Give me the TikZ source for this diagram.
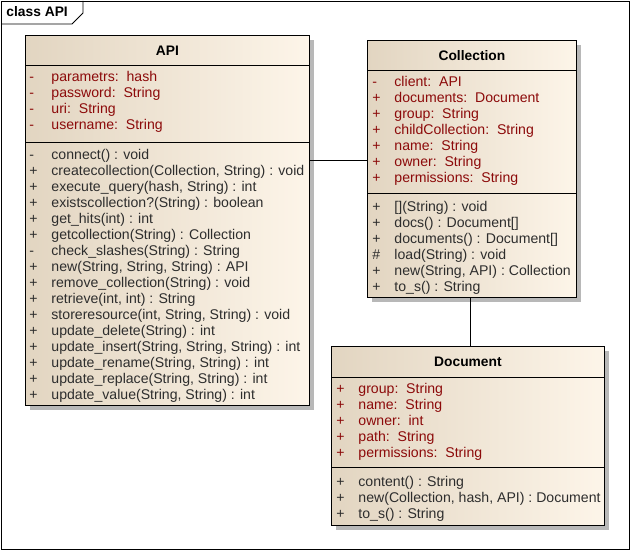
\documentclass[tikz,border=0pt]{standalone}
\usepackage{fontspec}
\setmainfont{Liberation Sans}
\usetikzlibrary{shadows}

\definecolor{umldark}{RGB}{226,213,193}
\definecolor{umllight}{RGB}{253,245,233}
\definecolor{attrred}{RGB}{140,10,10}
\definecolor{methgray}{RGB}{45,45,45}
\newcommand{\vis}[1]{\makebox[22pt][l]{#1}}

\begin{document}
\begin{tikzpicture}[x=1pt, y=-1pt, line width=0.9pt,
        class_style/.style={rectangle, draw=black, left color=umldark, right color=umllight, anchor=north west, inner sep=0pt,
            drop shadow={shadow xshift=5pt, shadow yshift=-5pt, fill=black!28, opacity=1}},
        title_style/.style={font=\fontsize{13.8}{16}\selectfont\bfseries, text=black},
        attr_style/.style={anchor=north west, align=left, inner sep=0pt, font=\fontsize{14.1}{16}\selectfont, text=attrred},
        meth_style/.style={attr_style, text=methgray},
        edge_style/.style={draw=black, line width=0.9pt, -}]

        \useasboundingbox (0,0) rectangle (630,551);
        \draw (1,1) rectangle (629,549);
        \node[anchor=west, inner sep=0pt, font=\fontsize{13.8}{16}\selectfont\bfseries] (frame_label) at (6,12) {class API};
        \draw (1,24) -- (72,24) -- (83,13) -- (83,1);

        % classes
        \node[class_style, minimum width=284pt, minimum height=370pt] (api) at (25,35) {};
        \node[class_style, minimum width=209pt, minimum height=257pt] (coll) at (367,40) {};
        \node[class_style, minimum width=273pt, minimum height=179pt] (doc) at (331,346) {};

        \draw ([yshift=-30pt]api.north west) -- ([yshift=-30pt]api.north east);
        \draw ([yshift=-107pt]api.north west) -- ([yshift=-107pt]api.north east);
        \draw ([yshift=-30pt]coll.north west) -- ([yshift=-30pt]coll.north east);
        \draw ([yshift=-153pt]coll.north west) -- ([yshift=-153pt]coll.north east);
        \draw ([yshift=-31pt]doc.north west) -- ([yshift=-31pt]doc.north east);
        \draw ([yshift=-121pt]doc.north west) -- ([yshift=-121pt]doc.north east);

        \node[title_style] (api_title) at ([yshift=-16pt]api.north) {API};
        \node[title_style] (coll_title) at ([yshift=-16pt]coll.north) {Collection};
        \node[title_style] (doc_title) at ([yshift=-16pt]doc.north) {Document};

        \node[attr_style] (api_attr) at (29,71) {\vis{-}parametrs:\ \ hash\\
            \vis{-}password:\ \ String\\
            \vis{-}uri:\ \ String\\
            \vis{-}username:\ \ String};
        \node[meth_style] (api_meth) at (29,149) {\vis{-}connect() : void\\
            \vis{+}createcollection(Collection, String) : void\\
            \vis{+}execute\_query(hash, String) : int\\
            \vis{+}existscollection?(String) : boolean\\
            \vis{+}get\_hits(int) : int\\
            \vis{+}getcollection(String) : Collection\\
            \vis{-}check\_slashes(String) : String\\
            \vis{+}new(String, String, String) : API\\
            \vis{+}remove\_collection(String) : void\\
            \vis{+}retrieve(int, int) : String\\
            \vis{+}storeresource(int, String, String) : void\\
            \vis{+}update\_delete(String) : int\\
            \vis{+}update\_insert(String, String, String) : int\\
            \vis{+}update\_rename(String, String) : int\\
            \vis{+}update\_replace(String, String) : int\\
            \vis{+}update\_value(String, String) : int};

        \node[attr_style] (coll_attr) at (372,76) {\vis{-}client:\ \ API\\
            \vis{+}documents:\ \ Document\\
            \vis{+}group:\ \ String\\
            \vis{+}childCollection:\ \ String\\
            \vis{+}name:\ \ String\\
            \vis{+}owner:\ \ String\\
            \vis{+}permissions:\ \ String};
        \node[meth_style] (coll_meth) at (372,201) {\vis{+}[](String) : void\\
            \vis{+}docs() : Document[]\\
            \vis{+}documents() : Document[]\\
            \vis{\#}load(String) : void\\
            \vis{+}new(String, API) : Collection\\
            \vis{+}to\_s() : String};

        \node[attr_style] (doc_attr) at (336,383) {\vis{+}group:\ \ String\\
            \vis{+}name:\ \ String\\
            \vis{+}owner:\ \ int\\
            \vis{+}path:\ \ String\\
            \vis{+}permissions:\ \ String};
        \node[meth_style] (doc_meth) at (336,476) {\vis{+}content() : String\\
            \vis{+}new(Collection, hash, API) : Document\\
            \vis{+}to\_s() : String};

        % associations
        \coordinate (api_link) at (0,160);
        \draw [edge_style] (api.east |- api_link) -- (coll.west |- api_link);
        \draw [edge_style] ([xshift=-2pt]coll.south) -- ([xshift=-2pt]coll.south |- doc.north);
\end{tikzpicture}
\end{document}
